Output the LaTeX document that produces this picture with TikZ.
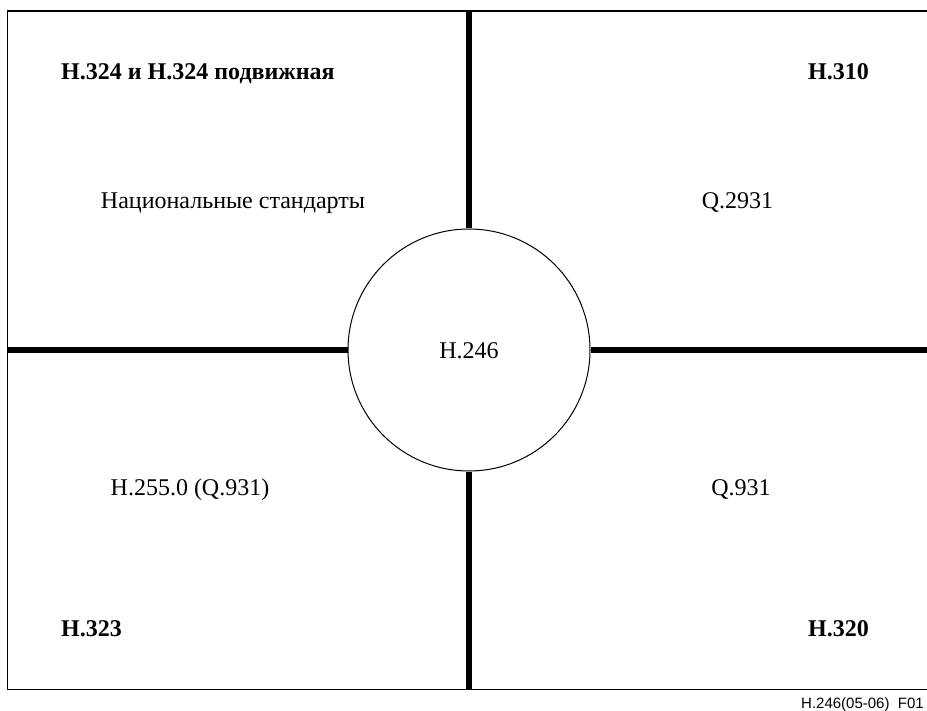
\documentclass[tikz,border=0pt]{standalone}
\usepackage{fontspec}
\setmainfont{Liberation Serif}
\newfontfamily\capfont{Liberation Sans}

\tikzset{
	label/.style = {font=\fontsize{24}{28}\selectfont, inner sep=0pt},
	boldlabel/.style = {label, font=\fontsize{24}{28}\selectfont\bfseries},
	frame/.style = {line width=1.3pt},
	axis/.style = {line width=5.8pt},
}

\begin{document}
\begin{tikzpicture}[x=1pt, y=-1pt]
			\path[use as bounding box] (0,0) rectangle (927,711);
			% outer frame, open on the right
			\draw[frame] (927,11) -- (7.3,11) -- (7.3,689.3) -- (927,689.3);
			% standard in the middle
			\node[draw, circle, line width=1pt, minimum size=242pt, inner sep=0pt] (core) at (469,350) {};
			\node[label, anchor=base] (coretext) at (469,358.3) {H.246};
			% dividers between the quadrants
			\coordinate (top) at (469,11);
			\coordinate (bottom) at (469,689.3);
			\coordinate (left) at (7.3,350);
			\coordinate (right) at (927,350);
			\draw[axis] (top) -- (core.north);
			\draw[axis] (core.south) -- (bottom);
			\draw[axis] (left) -- (core.west);
			\draw[axis] (core.east) -- (right);
			% quadrant titles
			\node[boldlabel, anchor=base west] (h324) at (61,79.3) {H.324 и H.324 подвижная};
			\node[boldlabel, anchor=base east] (h310) at (869,79.3) {H.310};
			\node[boldlabel, anchor=base west] (h323) at (61,636.7) {H.323};
			\node[boldlabel, anchor=base east] (h320) at (869,636.7) {H.320};
			% signalling in each quadrant
			\node[label, anchor=base] (national) at (233,208.3) {Национальные стандарты};
			\node[label, anchor=base] (q2931) at (737.5,208.3) {Q.2931};
			\node[label, anchor=base] (h2550) at (190,495) {H.255.0 (Q.931)};
			\node[label, anchor=base] (q931) at (741,495) {Q.931};
			\node[anchor=base west, inner sep=0pt, font=\capfont\fontsize{15}{18}\selectfont] (figno) at (801,708) {H.246(05-06)\ \ F01};
		\end{tikzpicture}
\end{document}
